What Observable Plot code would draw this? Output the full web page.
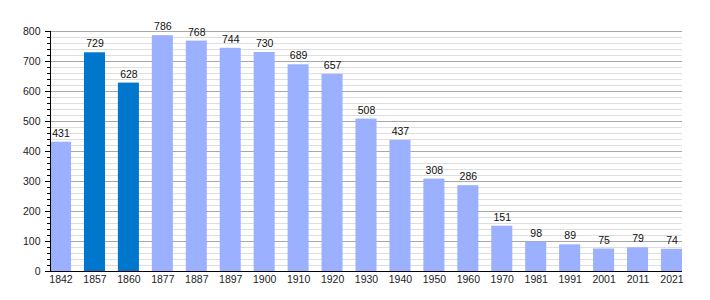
<!DOCTYPE html>
<html>
<head>
<meta charset="utf-8">
<script src="https://cdn.jsdelivr.net/npm/d3@7"></script>
<script src="https://cdn.jsdelivr.net/npm/@observablehq/plot@0.6"></script>
<style>
  html, body { margin: 0; padding: 0; background: #fff; }
  svg { display: block; }
</style>
</head>
<body>
<div id="chart"></div>
<script>
const years = ["1842","1857","1860","1877","1887","1897","1900","1910","1920","1930","1940","1950","1960","1970","1981","1991","2001","2011","2021"];
const population = [431,729,628,786,768,744,730,689,657,508,437,308,286,151,98,89,75,79,74];
const highlighted = ["1857","1860"];
const yMajorTicks = [0,100,200,300,400,500,600,700,800];
const yMinorTicks = d3.range(0, 801, 20);

const data = years.map((y, i) => ({year: y, pop: population[i], hi: highlighted.includes(y)}));

const chart = Plot.plot({
  width: 710,
  height: 300,
  marginLeft: 50,
  marginRight: 28,
  marginTop: 31,
  marginBottom: 29,
  style: {fontFamily: "'Liberation Sans', Arial, sans-serif", fontSize: "10px", color: "#222", background: "#fff"},
  x: {type: "band", domain: years, paddingInner: 0.38, paddingOuter: 0, align: 0, round: false, label: null},
  y: {domain: [0, 800], label: null},
  marks: [
    Plot.gridY(yMinorTicks, {stroke: "#dedede", strokeOpacity: 1}),
    Plot.gridY(yMajorTicks, {stroke: "#a8a8a8", strokeOpacity: 1}),
    Plot.barY(data, {x: "year", y: "pop", fill: d => d.hi ? "#0077cc" : "#9bb0ff"}),
    Plot.text(data, {x: "year", y: "pop", text: d => String(d.pop), lineAnchor: "bottom", dy: -5.5, fill: "#111", fontSize: 10.5}),
    Plot.axisY(yMinorTicks, {tickSize: 3, text: null, stroke: "#000"}),
    Plot.axisY(yMajorTicks, {tickSize: 5, tickPadding: 5, stroke: "#000", fill: "#222", fontSize: 10.5, label: null}),
    Plot.axisX({tickSize: 0, tickPadding: 4, fill: "#222", fontSize: 10.5, label: null}),
    Plot.frame({anchor: "left", stroke: "#000"}),
    Plot.ruleY([0], {stroke: "#000"})
  ]
});
document.getElementById("chart").appendChild(chart);
</script>
</body>
</html>
